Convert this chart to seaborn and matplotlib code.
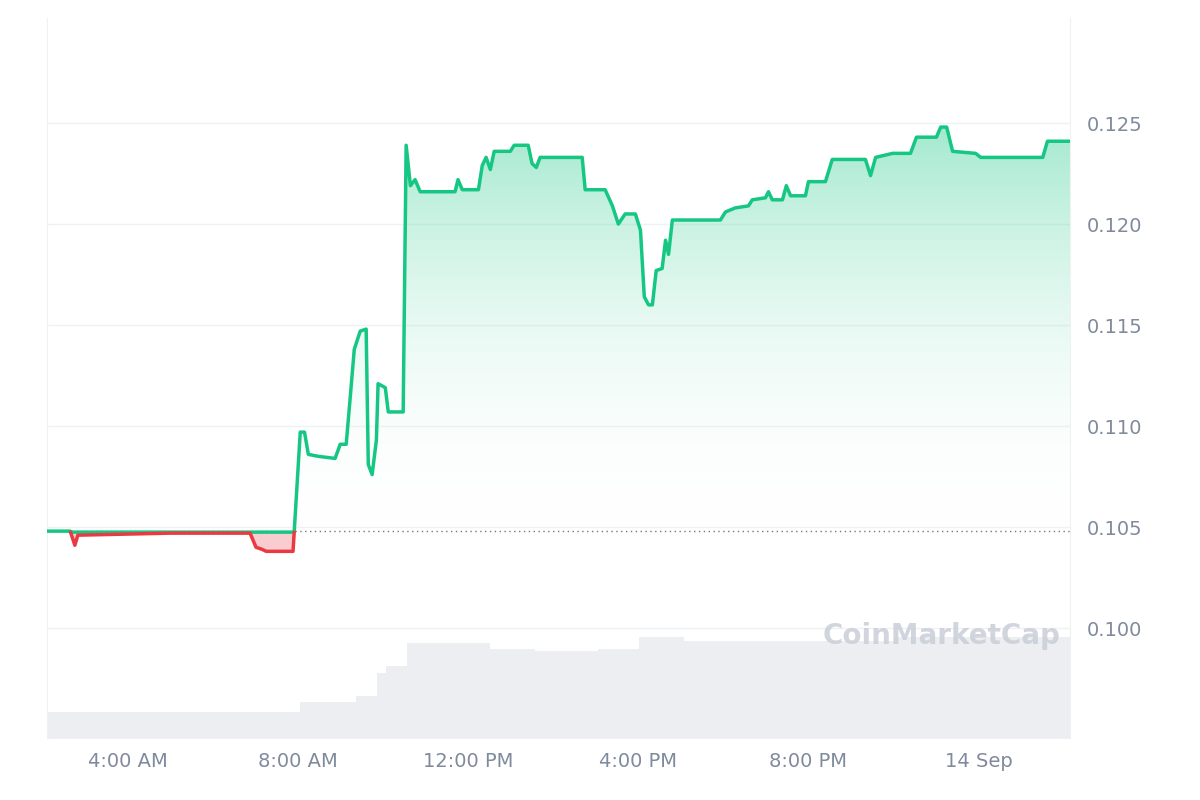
import numpy as np
import pandas as pd
import matplotlib
matplotlib.use("Agg")
import matplotlib.pyplot as plt
import seaborn as sns
from matplotlib.colors import LinearSegmentedColormap
from matplotlib.patches import Polygon

hours = [2.09,2.64,2.75,2.82,4.99,6.87,7.01,7.15,7.25,7.88,8.05,8.15,8.24,8.48,8.87,8.99,9.13,9.22,9.32,9.46,9.6,9.65,9.74,9.84,9.88,10.05,10.12,10.47,10.54,10.64,10.75,10.87,11.69,11.76,11.86,12.24,12.33,12.42,12.52,12.61,12.99,13.08,13.41,13.5,13.6,13.69,14.68,14.75,15.22,15.39,15.53,15.69,15.93,16.05,16.14,16.24,16.33,16.42,16.56,16.64,16.71,16.8,16.99,17.93,18.05,18.28,18.59,18.68,18.99,19.06,19.15,19.39,19.48,19.58,19.93,20.0,20.4,20.56,21.34,21.46,21.58,21.98,22.4,22.54,23.01,23.11,23.25,23.39,23.93,24.05,25.51,25.62,26.16]
prices = [0.1048,0.1048,0.1041,0.1046,0.1047,0.1047,0.1040,0.1039,0.1038,0.1038,0.1097,0.1097,0.1086,0.1085,0.1084,0.1091,0.1091,0.1113,0.1138,0.1147,0.1148,0.1081,0.1076,0.1093,0.1121,0.1119,0.1107,0.1107,0.1239,0.1219,0.1222,0.1216,0.1216,0.1222,0.1217,0.1217,0.1229,0.1233,0.1227,0.1236,0.1236,0.1239,0.1239,0.1230,0.1228,0.1233,0.1233,0.1217,0.1217,0.1209,0.1200,0.1205,0.1205,0.1197,0.1164,0.1160,0.1160,0.1177,0.1178,0.1192,0.1185,0.1202,0.1202,0.1202,0.1206,0.1208,0.1209,0.1212,0.1213,0.1216,0.1212,0.1212,0.1219,0.1214,0.1214,0.1221,0.1221,0.1232,0.1232,0.1224,0.1233,0.1235,0.1235,0.1243,0.1243,0.1248,0.1248,0.1236,0.1235,0.1233,0.1233,0.1241,0.1241]
baseline = 0.10475

vol_start_hours = [2.09, 8.0, 9.3, 9.8, 10.0, 10.5, 12.5, 13.5, 15.0, 16.0, 17.0, 22.0]
vol_levels =      [26,   36,  43,  66,  73,   96,   90,   88,   90,   102,  98,   102]

tick_hours = [4, 8, 12, 16, 20, 24]
tick_labels = ["4:00 AM", "8:00 AM", "12:00 PM", "4:00 PM", "8:00 PM", "14 Sep"]
y_ticks = [0.100, 0.105, 0.110, 0.115, 0.120, 0.125]

GREEN = "#16c784"; RED = "#ea3943"; GRAY = "#808a9d"

sns.set_style("white")
fig = plt.figure(figsize=(12, 8), dpi=100)
ax = fig.add_axes([0.039, 0.0775, 0.853, 0.9])
xmin, xmax = 2.09, 26.16
ymin, ymax = 0.09456, 0.1302

# volume bars
axv = ax.twinx()
step = 0.07
bar_x = np.arange(xmin, xmax, step)
idx = np.searchsorted(vol_start_hours, bar_x, side="right") - 1
bar_v = np.array(vol_levels)[idx]
axv.bar(bar_x, bar_v, width=step * 1.02, color="#eceef2", align="edge", linewidth=0, antialiased=False)
axv.set_ylim(0, 102 / 0.14)
axv.axis("off")
axv.set_zorder(0)
ax.set_zorder(1); ax.patch.set_visible(False)

# densify with crossing points
x = np.array(hours); y = np.array(prices)
xs, ys = [x[0]], [y[0]]
for i in range(1, len(x)):
    a, b = y[i-1]-baseline, y[i]-baseline
    if a*b < 0:
        t = a/(a-b)
        xs.append(x[i-1]+t*(x[i]-x[i-1])); ys.append(baseline)
    xs.append(x[i]); ys.append(y[i])
xs = np.array(xs); ys = np.array(ys)
up = np.where(ys >= baseline, ys, np.nan)
dn = np.where(ys <= baseline, ys, np.nan)

# gradient green fill clipped to the area above baseline
yclip = np.maximum(ys, baseline)
verts = [(xs[0], baseline)] + list(zip(xs, yclip)) + [(xs[-1], baseline)]
clip = Polygon(verts, closed=True, transform=ax.transData, facecolor="none", edgecolor="none")
ax.add_patch(clip)
cmap = LinearSegmentedColormap.from_list("g", [(1,1,1,0), (22/255,199/255,132/255,0.40)])
grad = np.linspace(0, 1, 256).reshape(-1, 1)
im = ax.imshow(grad, extent=[xmin, xmax, baseline, 0.1250], origin="lower", aspect="auto", cmap=cmap, zorder=1)
im.set_clip_path(clip)
ax.fill_between(xs, baseline, ys, where=ys <= baseline, interpolate=True, color=RED, alpha=0.25, linewidth=0)

df = pd.DataFrame({"h": xs, "up": up, "dn": dn})
sns.lineplot(data=df, x="h", y="up", ax=ax, color=GREEN, lw=2.5, zorder=3)
sns.lineplot(data=df, x="h", y="dn", ax=ax, color=RED, lw=2.5, zorder=3)
ax.axhline(0.1048, color="#777", ls=(0, (1, 2.5)), lw=1, zorder=2)

ax.set_xlim(xmin, xmax); ax.set_ylim(ymin, ymax)
ax.yaxis.tick_right()
ax.set_yticks(y_ticks)
ax.set_yticklabels([f"{v:.3f}" for v in y_ticks])
ax.set_xticks(tick_hours); ax.set_xticklabels(tick_labels)
ax.tick_params(colors=GRAY, labelsize=14, length=0, pad=12)
ax.tick_params(axis="x", pad=10)
for yt in y_ticks:
    ax.axhline(yt, color="#eff2f5", lw=1, zorder=0)
ax.spines["top"].set_visible(False)
for s in ["left", "right", "bottom"]:
    ax.spines[s].set_color("#eff2f5")
ax.set_xlabel(""); ax.set_ylabel("")
ax.text(0.758, 0.13, "CoinMarketCap", transform=ax.transAxes, color="#c9ced8",
        fontsize=20, fontweight="bold", alpha=0.85)
fig.savefig("out.png", dpi=100)
